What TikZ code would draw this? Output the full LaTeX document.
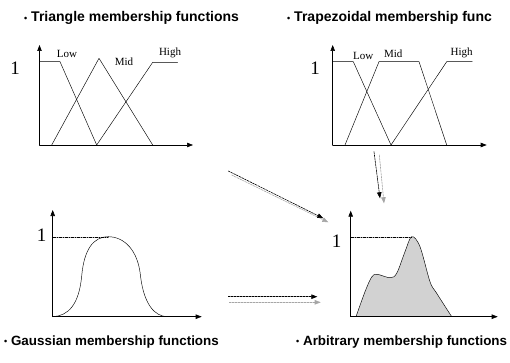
\documentclass[tikz,border=0pt]{standalone}
\usepackage{fontspec}
\setmainfont{Liberation Serif}
\newfontfamily\headfont{Liberation Sans}
\usetikzlibrary{arrows.meta}

\newcommand{\dotmark}{{\fontsize{9}{9}\selectfont\raisebox{0.5pt}{•}}}

\begin{document}
\begin{tikzpicture}[
    x=1pt, y=-1pt,
    line cap=round,
    line join=round,
    axis/.style={line width=0.6pt,-{Triangle[length=6pt,width=4.5pt]}},
    curve/.style={line width=0.45pt},
    level/.style={line width=0.4pt,dash pattern=on 3pt off 1pt on 1pt off 1pt},
    flow/.style={line width=0.6pt,dash pattern=on 2pt off 1pt,-{Triangle[length=6pt,width=4.5pt]}},
    head/.style={font=\headfont\bfseries\fontsize{14}{16}\selectfont,anchor=west,inner sep=0pt},
    foot/.style={font=\headfont\bfseries\fontsize{13.4}{15}\selectfont,anchor=west,inner sep=0pt},
    one/.style={font=\fontsize{19}{20}\selectfont,inner sep=0pt},
    lab/.style={font=\fontsize{11}{12}\selectfont,inner sep=0pt}
]
\useasboundingbox (0,0) rectangle (510,363);

% -------------------------------------------------
% Triangle membership functions
% -------------------------------------------------
\coordinate (TO) at (39.5,145);   % origin
\coordinate (TY) at (39.5,45);
\coordinate (TX) at (193,145);
\node[head] (ttri) at (24,18) {\dotmark\ Triangle membership functions};
\node[one] (tone) at (15,68) {1};
\draw[axis] (TO) -- (TY);
\draw[axis] (TO) -- (TX);
\draw[curve] (39.5,61.7) -- (60,61.7) -- (96.7,145);
\draw[curve] (51.7,145) -- (99,58.3) -- (152.7,145);
\draw[curve] (96.7,145) -- (152.7,62.3) -- (177.7,62.3);
\node[lab] (tlow) at (67,54) {Low};
\node[lab] (tmid) at (124,61.5) {Mid};
\node[lab] (thigh) at (170,53) {High};

% -------------------------------------------------
% Trapezoidal membership functions
% -------------------------------------------------
\coordinate (ZO) at (332.7,145);   % origin
\coordinate (ZY) at (332.7,45);
\coordinate (ZX) at (486.7,145);
\node[head] (ttrap) at (287,18) {\dotmark\ Trapezoidal membership func};
\node[one] (zone) at (315,68) {1};
\draw[axis] (ZO) -- (ZY);
\draw[axis] (ZO) -- (ZX);
\draw[curve] (332.7,61.7) -- (353.3,61.7) -- (391,145);
\draw[curve] (345,145) -- (379,61.7) -- (419,61.7) -- (446.7,145);
\draw[curve] (391,145) -- (446.7,61.7) -- (472.3,61.7);
\node[lab] (zlow) at (363.3,56) {Low};
\node[lab] (zmid) at (393.3,54) {Mid};
\node[lab] (zhigh) at (461.7,53) {High};

% -------------------------------------------------
% Gaussian membership functions
% -------------------------------------------------
\coordinate (GO) at (52.7,316.7);   % origin
\coordinate (GY) at (52.7,210);
\coordinate (GX) at (201.7,316.7);
\coordinate (GP) at (108.3,236.7);  % peak
\node[foot] (tgauss) at (4,341.7) {\dotmark\ Gaussian membership functions};
\node[one] (gone) at (41.7,235) {1};
\draw[axis] (GO) -- (GY);
\draw[axis] (GO) -- (GX);
\draw[level] (52.7,236.7) -- (GP);
\draw[curve] (GO) .. controls (68,316) and (79,305) .. (81.7,276)
    .. controls (84,250) and (93,236.7) .. (GP)
    .. controls (124,236.7) and (138,250) .. (140.5,276)
    .. controls (144,305) and (155,316.2) .. (167,316.7);

% -------------------------------------------------
% Arbitrary membership functions
% -------------------------------------------------
\coordinate (AO) at (350.7,316.7);   % origin
\coordinate (AY) at (350.7,210.7);
\coordinate (AX) at (497.7,316.7);
\coordinate (AP) at (411.7,236.7);  % peak
\node[foot] (tarb) at (296,341.7) {\dotmark\ Arbitrary membership functions};
\node[one] (aone) at (336.7,241) {1};
\filldraw[curve,fill=gray!35] plot[smooth,tension=0.55] coordinates {
    (356,316.7) (365,291.7) (371.7,277) (377,274.3) (390,277.7)
    (396.7,273.3) (405,251.7) (AP) (420,246.7) (430,281.7)
    (436.7,293.3) (451.7,316.7)} -- cycle;
\draw[axis] (AO) -- (AY);
\draw[axis] (AO) -- (AX);
\draw[level] (350.7,236.7) -- (AP);

% -------------------------------------------------
% Arrows towards the arbitrary function
% -------------------------------------------------
\coordinate (d1) at (228.3,171);
\coordinate (d2) at (323.3,218.3);
\coordinate (d3) at (231.7,175);
\coordinate (d4) at (328.3,222.3);
\coordinate (v1) at (374,151.7);
\coordinate (v2) at (380,198.3);
\coordinate (v3) at (379.3,155);
\coordinate (v4) at (384,203.3);
\coordinate (h1) at (228.3,296.7);
\coordinate (h2) at (317.3,296.7);
\coordinate (h3) at (229.3,302.3);
\coordinate (h4) at (320.7,302.3);

\draw[flow,gray!70] (d3) -- (d4);
\draw[flow] (d1) -- (d2);
\draw[flow,gray!70] (v3) -- (v4);
\draw[flow] (v1) -- (v2);
\draw[flow,gray!70] (h3) -- (h4);
\draw[flow] (h1) -- (h2);

\end{tikzpicture}
\end{document}
